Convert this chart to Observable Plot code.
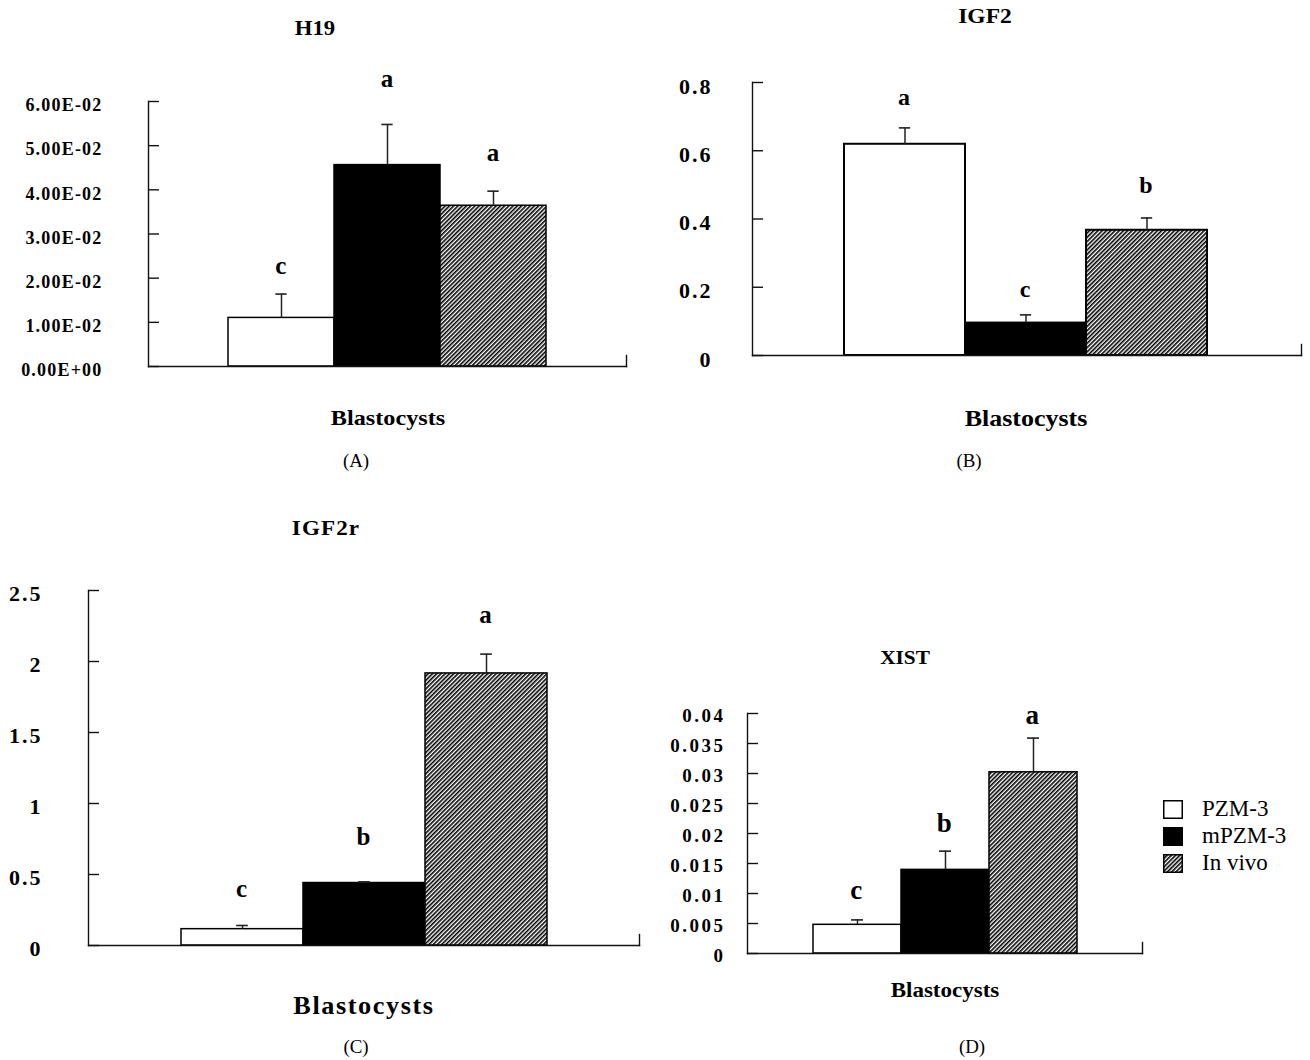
<!DOCTYPE html>
<html><head><meta charset="utf-8">
<script src="https://cdn.jsdelivr.net/npm/d3@7"></script>
<script src="https://cdn.jsdelivr.net/npm/@observablehq/plot@0.6"></script>
<style>
html,body{margin:0;padding:0;background:#fff;}
#page{position:relative;width:1310px;height:1060px;overflow:hidden;background:#fff;font-family:"Liberation Serif","Times New Roman",serif;color:#000;}
.t{position:absolute;white-space:nowrap;line-height:1;}
.b{font-weight:bold;}
.panel{position:absolute;}
.leg{position:absolute;white-space:nowrap;line-height:1;font-size:23px;}
</style></head><body>
<svg width="0" height="0" style="position:absolute"><defs>
<pattern id="hatch" patternUnits="userSpaceOnUse" width="3" height="3" patternTransform="rotate(45)"><rect width="3" height="3" fill="#fff"/><rect width="1.6" height="3" fill="#000"/></pattern>
</defs></svg>
<div id="page"></div>
<script>
// ---- data ----
const groups = ["PZM-3", "mPZM-3", "In vivo"];

const h19Values = [0.0110, 0.0456, 0.0364];
const h19Errors = [0.0164, 0.0548, 0.0397];
const h19Letters = ["c", "a", "a"];
const h19LetterAt = [0.0228, 0.0652, 0.0484];
const h19Ticks = [0, 0.01, 0.02, 0.03, 0.04, 0.05, 0.06];
const h19TickLabels = ["0.00E+00", "1.00E-02", "2.00E-02", "3.00E-02", "4.00E-02", "5.00E-02", "6.00E-02"];

const igf2Values = [0.619, 0.095, 0.367];
const igf2Errors = [0.667, 0.119, 0.403];
const igf2Letters = ["a", "c", "b"];
const igf2LetterAt = [0.756, 0.193, 0.500];
const igf2Ticks = [0, 0.2, 0.4, 0.6, 0.8];
const igf2TickLabels = ["0", "0.2", "0.4", "0.6", "0.8"];

const igf2rValues = [0.115, 0.440, 1.916];
const igf2rErrors = [0.141, 0.448, 2.052];
const igf2rLetters = ["c", "b", "a"];
const igf2rLetterAt = [0.395, 0.761, 2.325];
const igf2rTicks = [0, 0.5, 1, 1.5, 2, 2.5];
const igf2rTickLabels = ["0", "0.5", "1", "1.5", "2", "2.5"];

const xistValues = [0.00478, 0.01394, 0.0302];
const xistErrors = [0.0056, 0.01706, 0.0359];
const xistLetters = ["c", "b", "a"];
const xistLetterAt = [0.0105, 0.0217, 0.0397];
const xistTicks = [0, 0.005, 0.01, 0.015, 0.02, 0.025, 0.03, 0.035, 0.04];
const xistTickLabels = ["0", "0.005", "0.01", "0.015", "0.02", "0.025", "0.03", "0.035", "0.04"];

const panelTitles = ["H19", "IGF2", "IGF2r", "XIST"];
const xTitle = "Blastocysts";
const panelTags = ["(A)", "(B)", "(C)", "(D)"];

// ---- drawing ----
const page = document.getElementById("page");
const FONT = '"Liberation Serif","Times New Roman",serif';

function addText(txt, x, y, size, bold, sx = 1, extra = "") {
  const d = document.createElement("div");
  d.className = "t" + (bold ? " b" : "");
  d.textContent = txt;
  d.style.cssText += `left:${x}px;top:${y}px;font-size:${size}px;transform:translate(-50%,-50%) scaleX(${sx});${extra}`;
  page.appendChild(d);
}

function drawPanel(c) {
  const {L, R, T, B, barL, barR, ymax, values, errors, letters, letterAt,
         ticks, tickLabels, tickFont, tickLS, tickPad, tickDy, letterFont, barStroke} = c;
  const sx = Math.max(0, L - 170), sy = T - 45;
  const W = R - sx + 10, H = B - sy + 6;
  const data = groups.map((g, i) => ({group: g, value: values[i], err: errors[i], letter: letters[i], at: letterAt[i]}));
  const frameW = R - L, frameH = B - T;
  const bw = (barR - barL) / groups.length;
  const capInset = (bw - 12) / 2;
  const axisStyle = {stroke: "#111", strokeWidth: 1.4};
  const svg = Plot.plot({
    width: W, height: H,
    marginLeft: L - sx, marginRight: sx + W - R, marginTop: T - sy, marginBottom: sy + H - B,
    style: {fontFamily: FONT, fontWeight: "bold", letterSpacing: tickLS + "px", background: "transparent", overflow: "visible", maxWidth: "none", color: "#000"},
    x: {type: "band", domain: groups, range: [barL - sx, barR - sx], padding: 0, axis: null},
    y: {domain: [0, ymax], axis: null},
    color: {domain: groups, range: ["#fff", "#000", "url(#hatch)"]},
    marks: [
      Plot.barY(data, {x: "group", y: "value", fill: "group", stroke: "#000", strokeWidth: barStroke}),
      Plot.ruleX(data, {x: "group", y1: "value", y2: "err", stroke: "#222", strokeWidth: 1.5}),
      Plot.tickY(data, {x: "group", y: "err", insetLeft: capInset, insetRight: capInset, stroke: "#222", strokeWidth: 1.6}),
      Plot.frame({anchor: "left", ...axisStyle}),
      Plot.frame({anchor: "bottom", ...axisStyle}),
      Plot.frame({anchor: "right", insetTop: frameH - 11, ...axisStyle}),
      Plot.tickY(ticks, {y: d => d, insetRight: frameW - 11, ...axisStyle}),
      Plot.axisY(ticks, {tickSize: 0, tickPadding: tickPad, tickFormat: d => tickLabels[ticks.indexOf(d)],
                         fontSize: tickFont, fontWeight: "bold", dy: tickDy, label: null}),
      Plot.text(data, {x: "group", y: "at", text: "letter", fontSize: letterFont, fontWeight: "bold", lineAnchor: "middle"})
    ]
  });
  const div = document.createElement("div");
  div.className = "panel";
  div.style.cssText = `left:${sx}px;top:${sy}px;width:${W}px;height:${H}px;`;
  div.appendChild(svg);
  page.appendChild(div);
}

drawPanel({L: 148, R: 626, T: 101, B: 366, barL: 227, barR: 547, ymax: 0.06,
  values: h19Values, errors: h19Errors, letters: h19Letters, letterAt: h19LetterAt,
  ticks: h19Ticks, tickLabels: h19TickLabels, tickFont: 18, tickLS: 1.2, tickPad: 46, tickDy: 4, letterFont: 25, barStroke: 1.5});
drawPanel({L: 752, R: 1301, T: 82, B: 355, barL: 843, barR: 1208, ymax: 0.8,
  values: igf2Values, errors: igf2Errors, letters: igf2Letters, letterAt: igf2LetterAt,
  ticks: igf2Ticks, tickLabels: igf2TickLabels, tickFont: 22, tickLS: 2, tickPad: 40, tickDy: 4, letterFont: 24, barStroke: 2});
drawPanel({L: 88, R: 639, T: 590, B: 945, barL: 180, barR: 547, ymax: 2.5,
  values: igf2rValues, errors: igf2rErrors, letters: igf2rLetters, letterAt: igf2rLetterAt,
  ticks: igf2rTicks, tickLabels: igf2rTickLabels, tickFont: 22, tickLS: 2, tickPad: 46, tickDy: 3, letterFont: 25, barStroke: 1.5});
drawPanel({L: 747, R: 1142, T: 713, B: 953, barL: 813, barR: 1077, ymax: 0.04,
  values: xistValues, errors: xistErrors, letters: xistLetters, letterAt: xistLetterAt,
  ticks: xistTicks, tickLabels: xistTickLabels, tickFont: 19, tickLS: 2.5, tickPad: 22, tickDy: 2, letterFont: 27, barStroke: 1.5});

// titles, axis titles, panel tags
addText(panelTitles[0], 315, 28, 21, true, 1.08);
addText(panelTitles[1], 985, 16, 21, true, 1.12);
addText(panelTitles[2], 326, 528, 21, true, 1.1, "letter-spacing:1px;");
addText(panelTitles[3], 905, 657, 19, true, 1.12);
addText(xTitle, 388, 418, 22, true, 1.1);
addText(xTitle, 1026, 418, 23, true, 1.13);
addText(xTitle, 364, 1005, 25, true, 1.05, "letter-spacing:1.5px;");
addText(xTitle, 945, 990, 20, true, 1.15);
addText(panelTags[0], 356, 461, 18, false, 1.05);
addText(panelTags[1], 969, 461, 18, false, 1.05);
addText(panelTags[2], 356, 1047, 18, false, 1.05);
addText(panelTags[3], 972, 1047, 18, false, 1.05);

// legend
const legendFills = ["#fff", "#000", "url(#hatch)"];
const legendRows = [809, 836, 863];
groups.forEach((g, i) => {
  const s = document.createElementNS("http://www.w3.org/2000/svg", "svg");
  s.setAttribute("width", 20); s.setAttribute("height", 19);
  s.style.cssText = `position:absolute;left:1163px;top:${legendRows[i] - 9.5}px;`;
  const r = document.createElementNS("http://www.w3.org/2000/svg", "rect");
  r.setAttribute("x", 0.75); r.setAttribute("y", 0.75); r.setAttribute("width", 18.5); r.setAttribute("height", 17.5);
  r.setAttribute("fill", legendFills[i]); r.setAttribute("stroke", "#000"); r.setAttribute("stroke-width", 1.5);
  s.appendChild(r);
  page.appendChild(s);
  const t = document.createElement("div");
  t.className = "leg";
  t.textContent = g;
  t.style.left = "1202px";
  t.style.top = (legendRows[i] - 12) + "px";
  page.appendChild(t);
});
</script></body></html>
